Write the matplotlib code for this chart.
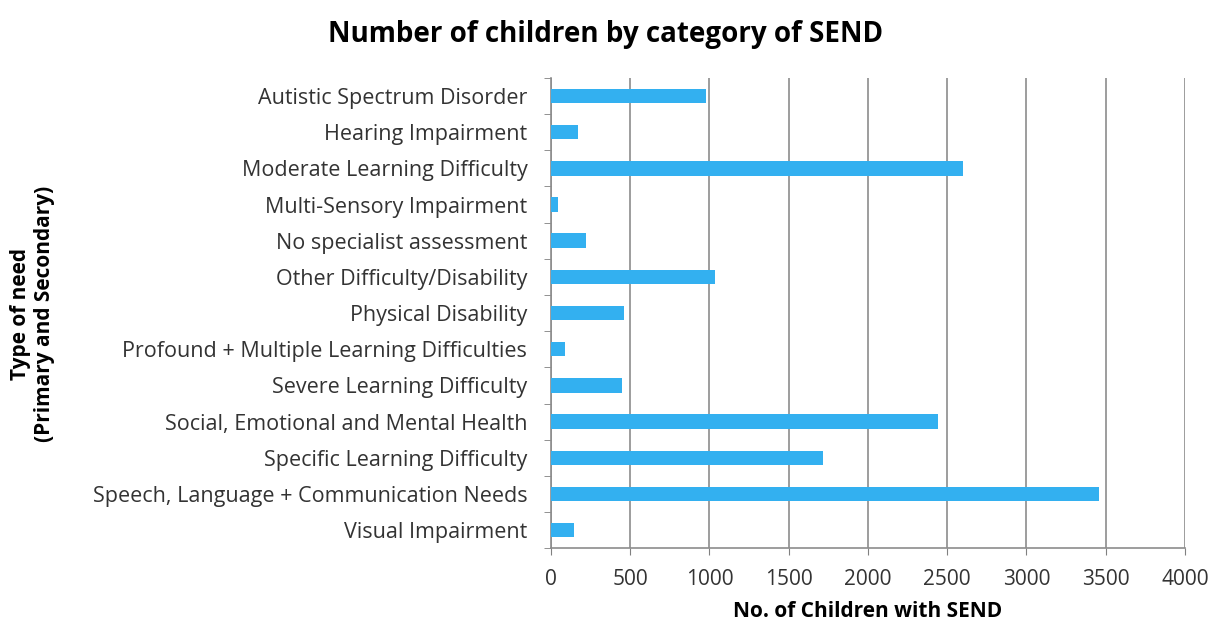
import numpy as np
import matplotlib.pyplot as plt

categories = [
    "Autistic Spectrum Disorder",
    "Hearing Impairment",
    "Moderate Learning Difficulty",
    "Multi-Sensory Impairment",
    "No specialist assessment",
    "Other Difficulty/Disability",
    "Physical Disability",
    "Profound + Multiple Learning Difficulties",
    "Severe Learning Difficulty",
    "Social, Emotional and Mental Health",
    "Specific Learning Difficulty",
    "Speech, Language + Communication Needs",
    "Visual Impairment",
]
children = [980, 168, 2600, 45, 222, 1035, 462, 88, 445, 2440, 1718, 3460, 145]
x_ticks = [0, 500, 1000, 1500, 2000, 2500, 3000, 3500, 4000]

plt.rcParams['font.family'] = ['Open Sans', 'DejaVu Sans']

fig = plt.figure(figsize=(12.12, 6.28), dpi=100)
ax = fig.add_axes([0.4546, 0.127, 0.5231, 0.749])

y = np.arange(len(categories))
ax.barh(y, children, height=0.4, color='#33b0f0', zorder=3)

ax.set_xlim(0, 4000)
ax.set_ylim(len(categories) - 0.5, -0.5)
ax.set_xticks(x_ticks)
ax.set_xticklabels([str(t) for t in x_ticks], fontsize=15, color='#333333')
ax.set_yticks(y)
ax.set_yticklabels(categories, fontsize=15.5, color='#333333')
ax.set_yticks(np.arange(-0.5, len(categories)), minor=True)

ax.tick_params(axis='y', which='major', length=0, pad=17)
ax.tick_params(axis='y', which='minor', length=5, color='#808080', direction='out')
ax.tick_params(axis='x', which='major', length=5, color='#808080', pad=10)

ax.grid(axis='x', color='#8c8c8c', linewidth=1.2, zorder=0)
for s in ['top', 'right']:
    ax.spines[s].set_visible(False)
for s in ['left', 'bottom']:
    ax.spines[s].set_color('#8c8c8c')
    ax.spines[s].set_linewidth(1.2)

ax.set_xlabel('No. of Children with SEND', fontsize=15, fontweight='bold', labelpad=8)
fig.text(0.027, 0.5, 'Type of need\n(Primary and Secondary)', rotation=90,
         ha='center', va='center', fontsize=15, fontweight='bold')
fig.suptitle('Number of children by category of SEND', x=0.5, y=0.968,
             fontsize=20, fontweight='bold')

fig.savefig('out.png', dpi=100)
